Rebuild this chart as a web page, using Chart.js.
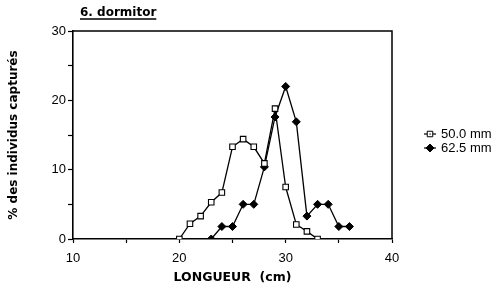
<!DOCTYPE html>
<html><head><meta charset="utf-8">
<script src="https://cdn.jsdelivr.net/npm/chart.js@4"></script>
<style>html,body{margin:0;padding:0;background:#fff}canvas{display:block}</style>
</head><body>
<canvas id="c" width="500" height="289"></canvas>
<script>
const chartTitle = "6. dormitor";
const xTitle = "LONGUEUR  (cm)";
const yTitle = "% des individus capturés";
const seriesLabels = ["50.0 mm", "62.5 mm"];
const lengths50 = [20, 21, 22, 23, 24, 25, 26, 27, 28, 29, 30, 31, 32, 33];
const pct50 =     [0, 2.2, 3.3, 5.3, 6.7, 13.3, 14.4, 13.3, 10.9, 18.8, 7.5, 2.1, 1.1, 0];
const lengths62 = [23, 24, 25, 26, 27, 28, 29, 30, 31, 32, 33, 34, 35, 36];
const pct62 =     [0, 1.8, 1.8, 5, 5, 10.4, 17.6, 22, 16.9, 3.3, 5, 5, 1.8, 1.8];
const xTickValues = [10, 20, 30, 40];
const yTickValues = [0, 10, 20, 30];

const toPts = (xs, ys) => xs.map((x, i) => ({x: x, y: ys[i]}));

const boxPlugin = {
  id: 'boxAndText',
  afterDraw(chart) {
    const ctx = chart.ctx, a = chart.chartArea;
    ctx.save();
    ctx.strokeStyle = '#000'; ctx.lineWidth = 1.5;
    ctx.beginPath();
    ctx.moveTo(a.left, a.top); ctx.lineTo(a.right, a.top); ctx.lineTo(a.right, a.bottom);
    ctx.stroke();
    // title
    ctx.font = 'bold 12px "DejaVu Sans"';
    ctx.fillStyle = '#000'; ctx.textBaseline = 'alphabetic'; ctx.textAlign = 'left';
    ctx.fillText(chartTitle, 80, 16);
    const w = ctx.measureText(chartTitle).width;
    ctx.lineWidth = 1.3;
    ctx.beginPath(); ctx.moveTo(80, 19); ctx.lineTo(80 + w, 19); ctx.stroke();
    // legend
    const rows = [134, 148];
    chart.data.datasets.slice(0, 2).forEach((ds, i) => {
      const y = rows[i];
      ctx.lineWidth = 1.2; ctx.strokeStyle = '#000';
      ctx.beginPath(); ctx.moveTo(424, y); ctx.lineTo(436, y); ctx.stroke();
      ctx.fillStyle = ds.pointBackgroundColor; ctx.strokeStyle = '#000'; ctx.lineWidth = 1;
      Chart.helpers.drawPoint(ctx, {pointStyle: ds.pointStyle, radius: ds.pointRadius, rotation: 0, borderWidth: 1}, 430, y);
      if (i === 0) {
        ctx.fillStyle = '#000';
        ctx.fillRect(429.5, y - 0.5, 1.2, 1.2);
      }
      ctx.fillStyle = '#000';
      ctx.font = '13px "Liberation Sans"';
      ctx.textBaseline = 'middle';
      ctx.fillText(ds.label, 441, y + 0.5);
    });
    ctx.restore();
  }
};

new Chart(document.getElementById('c'), {
  type: 'line',
  data: {
    datasets: [
      {label: seriesLabels[0], data: toPts(lengths50, pct50), borderColor: '#000', borderWidth: 1.3,
       pointStyle: 'rect', pointRadius: 3.9, pointBackgroundColor: '#fff', pointBorderColor: '#000', pointBorderWidth: 1.1, tension: 0},
      {label: seriesLabels[1], data: toPts(lengths62, pct62), borderColor: '#000', borderWidth: 1.3,
       pointStyle: 'rectRot', pointRadius: 4, pointBackgroundColor: '#000', pointBorderColor: '#000', pointBorderWidth: 1, tension: 0},
      {label: 'dots', data: toPts(lengths50, pct50), showLine: false,
       pointStyle: 'rect', pointRadius: 0.8, pointBackgroundColor: '#000', pointBorderColor: '#000', pointBorderWidth: 0}
    ]
  },
  options: {
    responsive: false, animation: false, devicePixelRatio: 1,
    layout: {padding: {top: 31, right: 108, left: 0, bottom: 0}},
    plugins: {legend: {display: false}, tooltip: {enabled: false}, title: {display: false}},
    scales: {
      x: {
        type: 'linear', min: 10, max: 40,
        afterFit(s) { s.height = 50; },
        ticks: {stepSize: 5, color: '#000', padding: 8, maxRotation: 0, autoSkip: false,
          font: {family: '"Liberation Sans"', size: 13},
          callback: v => xTickValues.includes(v) ? String(v) : ''},
        grid: {drawOnChartArea: false, tickLength: 4, color: '#000', tickColor: '#000', tickWidth: 1.2},
        border: {color: '#000', width: 1.6},
        title: {display: true, text: xTitle, color: '#000', padding: {top: 0, bottom: 4},
          font: {family: '"DejaVu Sans"', weight: 'bold', size: 12.5}}
      },
      y: {
        min: 0, max: 30,
        afterFit(s) { s.width = 73; },
        ticks: {stepSize: 5, color: '#000', padding: 2, autoSkip: false,
          font: {family: '"Liberation Sans"', size: 13},
          callback: v => yTickValues.includes(v) ? String(v) : ''},
        grid: {drawOnChartArea: false, tickLength: 5, color: '#000', tickColor: '#000', tickWidth: 1.2},
        border: {color: '#000', width: 1.6},
        title: {display: true, text: yTitle, color: '#000', padding: {top: 7, bottom: 0},
          font: {family: '"DejaVu Sans"', weight: 'bold', size: 12}}
      }
    }
  },
  plugins: [boxPlugin]
});
</script>
</body></html>
